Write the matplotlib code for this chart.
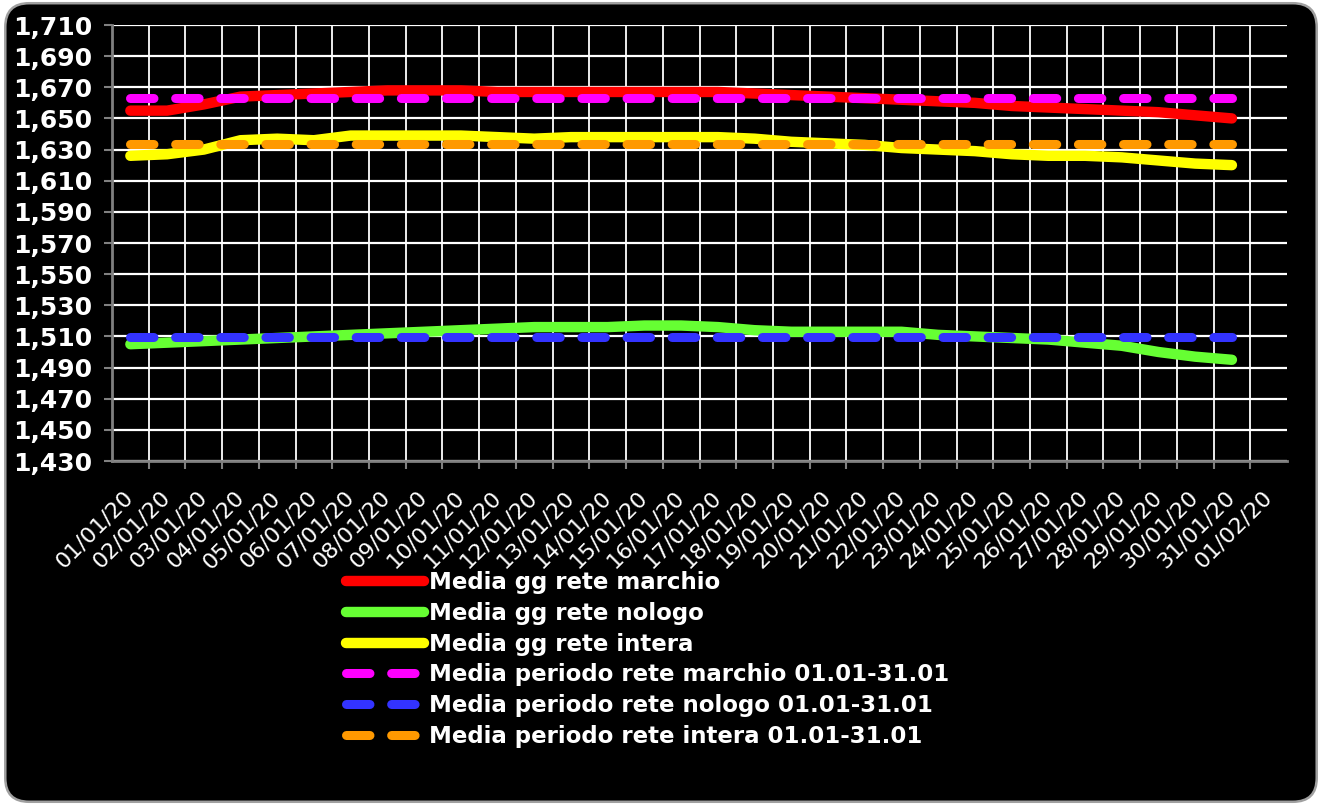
import numpy as np
import matplotlib.pyplot as plt
from matplotlib.patches import FancyBboxPatch
from matplotlib.ticker import FuncFormatter, FixedLocator

# category labels (one per day, last one empty)
dates = ["01/01/20", "02/01/20", "03/01/20", "04/01/20", "05/01/20", "06/01/20",
         "07/01/20", "08/01/20", "09/01/20", "10/01/20", "11/01/20", "12/01/20",
         "13/01/20", "14/01/20", "15/01/20", "16/01/20", "17/01/20", "18/01/20",
         "19/01/20", "20/01/20", "21/01/20", "22/01/20", "23/01/20", "24/01/20",
         "25/01/20", "26/01/20", "27/01/20", "28/01/20", "29/01/20", "30/01/20",
         "31/01/20", "01/02/20"]

# daily averages 01/01 - 31/01
rete_marchio = [1.655, 1.655, 1.659, 1.664, 1.665, 1.666, 1.667, 1.668, 1.668, 1.668,
                1.667, 1.667, 1.667, 1.667, 1.667, 1.667, 1.667, 1.666, 1.665, 1.664,
                1.663, 1.662, 1.661, 1.660, 1.658, 1.657, 1.656, 1.655, 1.654, 1.652, 1.650]
rete_nologo = [1.505, 1.506, 1.507, 1.508, 1.509, 1.510, 1.511, 1.512, 1.513, 1.514,
               1.515, 1.516, 1.516, 1.516, 1.517, 1.517, 1.516, 1.514, 1.513, 1.513,
               1.513, 1.513, 1.511, 1.510, 1.509, 1.508, 1.506, 1.504, 1.500, 1.497, 1.495]
rete_intera = [1.626, 1.627, 1.630, 1.636, 1.637, 1.636, 1.639, 1.639, 1.639, 1.639,
               1.638, 1.637, 1.638, 1.638, 1.638, 1.638, 1.638, 1.637, 1.635, 1.634,
               1.633, 1.631, 1.630, 1.629, 1.627, 1.626, 1.626, 1.625, 1.623, 1.621, 1.620]

# period averages 01.01-31.01
media_marchio = 1.663
media_nologo = 1.5095
media_intera = 1.6335

n = len(rete_marchio)
x = np.arange(n)

fig = plt.figure(figsize=(13.22, 8.05), dpi=100, facecolor="white")

# chart area with rounded grey frame
frame = FancyBboxPatch((0.004, 0.004), 0.992, 0.992, boxstyle="round,pad=0,rounding_size=0.018",
                       transform=fig.transFigure, facecolor="black", edgecolor="#a0a0a0",
                       linewidth=1.8, zorder=-10, mutation_aspect=1322 / 805)
fig.patches.append(frame)

ax = fig.add_axes([112 / 1322, 1 - 461 / 805, 1175 / 1322, 436 / 805])
ax.set_facecolor("black")

lw_solid = 7.5
ax.plot(x, rete_marchio, color="#ff0000", lw=lw_solid, solid_capstyle="round",
        label="Media gg rete marchio", zorder=3)
ax.plot(x, rete_nologo, color="#66ff33", lw=lw_solid, solid_capstyle="round",
        label="Media gg rete nologo", zorder=3)
ax.plot(x, rete_intera, color="#ffff00", lw=lw_solid, solid_capstyle="round",
        label="Media gg rete intera", zorder=3)

dash = (2.6, 2.4)
lw_dash = 6.5
ax.plot(x, [media_marchio] * n, color="#ff00ff", lw=lw_dash, dashes=dash, dash_capstyle="round",
        label="Media periodo rete marchio 01.01-31.01", zorder=4)
ax.plot(x, [media_nologo] * n, color="#3333ff", lw=lw_dash, dashes=dash, dash_capstyle="round",
        label="Media periodo rete nologo 01.01-31.01", zorder=4)
ax.plot(x, [media_intera] * n, color="#ff9900", lw=lw_dash, dashes=dash, dash_capstyle="round",
        label="Media periodo rete intera 01.01-31.01", zorder=4)

ax.set_xlim(-0.5, len(dates) - 0.5)
ax.set_ylim(1.430, 1.710)

# y axis
ax.set_yticks(np.arange(1.430, 1.7101, 0.020))
ax.yaxis.set_major_formatter(FuncFormatter(lambda v, p: f"{v:.3f}".replace(".", ",")))
ax.tick_params(axis="y", colors="#808080", length=6, width=1.5, pad=8,
               labelcolor="white", labelsize=18)
for t in ax.get_yticklabels():
    t.set_fontweight("bold")

# x axis: labels at category centres, grid/ticks at boundaries
ax.set_xticks(np.arange(len(dates)))
ax.set_xticklabels(dates, rotation=45, ha="right", va="center", rotation_mode="anchor",
                   color="white", fontsize=16)
ax.tick_params(axis="x", which="major", length=0, pad=24)
ax.xaxis.set_minor_locator(FixedLocator(np.arange(0.5, len(dates) - 1, 1.0)))
ax.tick_params(axis="x", which="minor", colors="#808080", length=6, width=1.5)

ax.grid(True, axis="y", which="major", color="white", lw=1.6, zorder=1)
ax.grid(True, axis="x", which="minor", color="white", lw=1.3, zorder=1)
ax.set_axisbelow(True)

for s in ["top", "right"]:
    ax.spines[s].set_visible(False)
for s in ["left", "bottom"]:
    ax.spines[s].set_color("#808080")
    ax.spines[s].set_linewidth(2)

leg = fig.legend(loc="upper left", bbox_to_anchor=(346 / 1322, 1 - 571 / 805), frameon=False,
                 borderpad=0, borderaxespad=0, handlelength=3.4, handletextpad=0.22,
                 labelspacing=0.34, prop={"weight": "bold", "size": 16.5})
for t in leg.get_texts():
    t.set_color("white")
    t.set_fontweight("bold")

fig.savefig("out.png", dpi=100, facecolor="white")
